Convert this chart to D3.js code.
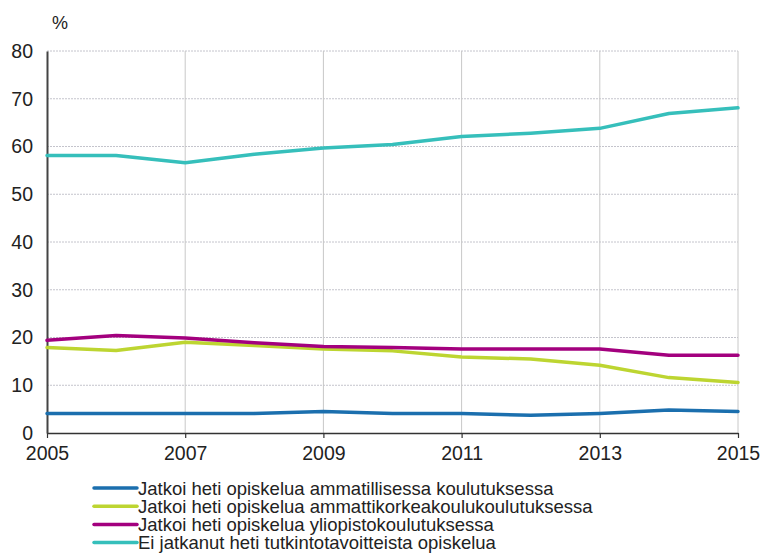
<!DOCTYPE html>
<html>
<head>
<meta charset="utf-8">
<script src="https://cdn.jsdelivr.net/npm/d3@7"></script>
<style>
  body { margin: 0; background: #fff; }
  svg text { font-family: "Liberation Sans", Arial, sans-serif; fill: #222; }
</style>
</head>
<body>
<div id="chart"></div>
<script>
// years on the x axis
var years = [2005, 2006, 2007, 2008, 2009, 2010, 2011, 2012, 2013, 2014, 2015];
var xTicks = [2005, 2007, 2009, 2011, 2013, 2015];
var yTicks = [0, 10, 20, 30, 40, 50, 60, 70, 80];

// series (%)
var ammatillinen = [4.1, 4.1, 4.1, 4.1, 4.5, 4.1, 4.1, 3.7, 4.1, 4.8, 4.5];
var amk = [17.9, 17.3, 19.0, 18.3, 17.6, 17.2, 15.9, 15.5, 14.2, 11.6, 10.6];
var yliopisto = [19.4, 20.4, 19.9, 18.9, 18.1, 17.9, 17.6, 17.6, 17.6, 16.3, 16.3];
var eiJatkanut = [58.1, 58.1, 56.6, 58.4, 59.7, 60.4, 62.1, 62.8, 63.8, 66.9, 68.1];

var seriesNames = [
  "Jatkoi heti opiskelua ammatillisessa koulutuksessa",
  "Jatkoi heti opiskelua ammattikorkeakoulukoulutuksessa",
  "Jatkoi heti opiskelua yliopistokoulutuksessa",
  "Ei jatkanut heti tutkintotavoitteista opiskelua"
];
var seriesValues = [ammatillinen, amk, yliopisto, eiJatkanut];
var colors = ["#1b6fae", "#bdd531", "#a3007e", "#36bfbb"];

var width = 760, height = 554;
var margin = {top: 51, right: 22, bottom: 121, left: 47};
var fontFam = "'Liberation Sans', Arial, sans-serif";

var svg = d3.select("#chart").append("svg")
  .attr("width", width)
  .attr("height", height);

var x = d3.scaleLinear()
  .domain([2005, 2015])
  .range([margin.left, width - margin.right]);

var y = d3.scaleLinear()
  .domain([0, 80])
  .range([height - margin.bottom, margin.top]);

// horizontal grid (dotted)
svg.append("g")
  .selectAll("line")
  .data(yTicks.filter(function(d) { return d > 0; }))
  .enter()
  .append("line")
    .attr("x1", x(2005))
    .attr("x2", x(2015))
    .attr("y1", function(d) { return y(d); })
    .attr("y2", function(d) { return y(d); })
    .attr("stroke", "#c4c4cc")
    .attr("stroke-width", 1)
    .attr("stroke-dasharray", "2,1");

// vertical grid at odd years
svg.append("g")
  .selectAll("line")
  .data(xTicks.filter(function(d) { return d > 2005; }))
  .enter()
  .append("line")
    .attr("x1", function(d) { return x(d); })
    .attr("x2", function(d) { return x(d); })
    .attr("y1", y(80))
    .attr("y2", y(0))
    .attr("stroke", "#c8c8c8")
    .attr("stroke-width", 1);

// x axis
var xAxis = svg.append("g")
  .attr("transform", "translate(0," + y(0) + ")")
  .call(d3.axisBottom(x).tickValues(xTicks).tickFormat(d3.format("d")).tickSizeInner(5).tickSizeOuter(0).tickPadding(8));
xAxis.select(".domain").attr("stroke", "#333").attr("stroke-width", 1.5);
xAxis.selectAll(".tick line").attr("stroke", "#333").attr("stroke-width", 1.2);
xAxis.selectAll("text").attr("font-size", 19.5).attr("fill", "#222")
  .style("font-family", fontFam);

// y axis
var yAxis = svg.append("g")
  .attr("transform", "translate(" + x(2005) + ",0)")
  .call(d3.axisLeft(y).tickValues(yTicks).tickSize(0).tickPadding(14));
yAxis.select(".domain").attr("stroke", "#444").attr("stroke-width", 2);
yAxis.selectAll("text").attr("font-size", 19.5).attr("fill", "#222")
  .style("font-family", fontFam);

svg.append("text")
  .attr("x", 52)
  .attr("y", 29)
  .attr("font-size", 18)
  .text("%");

// the lines
var line = d3.line()
  .x(function(d, i) { return x(years[i]); })
  .y(function(d) { return y(d); });

svg.append("g")
  .selectAll("path")
  .data(seriesValues)
  .enter()
  .append("path")
    .attr("fill", "none")
    .attr("stroke", function(d, i) { return colors[i]; })
    .attr("stroke-width", 3.5)
    .attr("stroke-linejoin", "round")
    .attr("stroke-linecap", "round")
    .attr("d", line);

// legend
var legend = svg.append("g")
  .selectAll("g")
  .data(seriesNames)
  .enter()
  .append("g")
    .attr("transform", function(d, i) { return "translate(94," + (488 + i * 18.2) + ")"; });

legend.append("line")
  .attr("x1", 0)
  .attr("x2", 43)
  .attr("stroke", function(d, i) { return colors[i]; })
  .attr("stroke-width", 3.5)
  .attr("stroke-linecap", "round");

legend.append("text")
  .attr("x", 44)
  .attr("dy", "0.36em")
  .attr("font-size", 18.5)
  .text(function(d) { return d; });
</script>
</body>
</html>
